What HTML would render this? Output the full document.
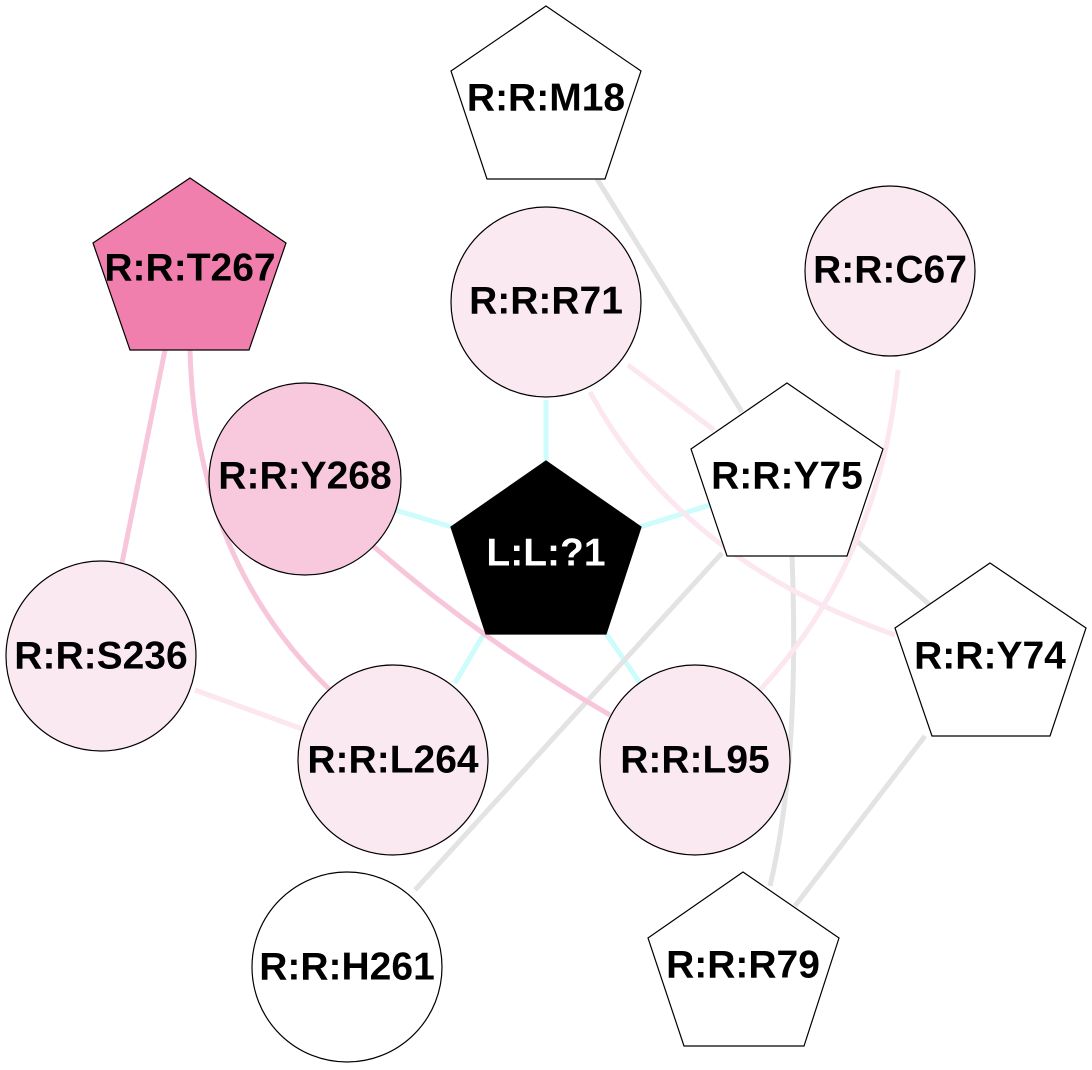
<!DOCTYPE html>
<html><head><meta charset="utf-8"><style>html,body{margin:0;padding:0;background:#fff}svg{display:block}text{font-family:"Liberation Sans",Arial,sans-serif;font-weight:bold;font-size:39px;text-anchor:middle;dominant-baseline:central}</style></head>
<body>
<svg width="1092" height="1070" viewBox="0 0 1092 1070" xmlns="http://www.w3.org/2000/svg">
<g fill="none" stroke-width="5">
<g stroke="#ccfcfc">
<line x1="546" y1="400" x2="546" y2="462"/>
<line x1="395" y1="510" x2="452" y2="527"/>
<line x1="640" y1="527" x2="710" y2="505"/>
<line x1="455" y1="683" x2="485" y2="632"/>
<line x1="640" y1="683" x2="605" y2="632"/>
</g>
<g stroke="#e3e3e3">
<line x1="597" y1="179" x2="742" y2="412"/>
<line x1="850" y1="535" x2="930" y2="605"/>
<line x1="722" y1="553" x2="415" y2="890"/>
<path d="M792 556 Q800 760 770 886"/>
<line x1="925" y1="736" x2="795" y2="906"/>
</g>
<g stroke="#fce6ef">
<line x1="628" y1="365" x2="714" y2="430"/>
<path d="M590 392 Q680 560 895 635"/>
<path d="M898 370 Q880 560 760 690"/>
<line x1="195" y1="690" x2="305" y2="730"/>
</g>
<g stroke="#f8c6da">
<line x1="165" y1="350" x2="122" y2="563"/>
<path d="M190 350 Q195 560 330 690"/>
<path d="M372 545 Q480 640 610 715"/>
</g>
</g>
<g stroke="#000" stroke-width="1.2">
<polygon points="546,6 641,71 605,179 487,179 451,71" fill="#fff"/>
<polygon points="190,178 286,243 249,350 130,350 93,243" fill="#f07fae"/>
<circle cx="546" cy="302" r="95" fill="#fbe9f2"/>
<circle cx="890" cy="271" r="85" fill="#fbe9f2"/>
<circle cx="305" cy="479" r="96" fill="#f8c8dc"/>
<polygon points="546,461 641,527 606,634 486,634 451,527" fill="#000"/>
<polygon points="787,383 883,449 847,556 727,556 691,449" fill="#fff"/>
<polygon points="990,563 1086,628 1050,736 932,736 895,628" fill="#fff"/>
<circle cx="101" cy="656" r="95" fill="#fbe9f2"/>
<circle cx="393" cy="760" r="95" fill="#fbe9f2"/>
<circle cx="695" cy="760" r="95" fill="#fbe9f2"/>
<circle cx="347" cy="967" r="95" fill="#fff"/>
<polygon points="743,872 839,938 804,1046 684,1046 648,938" fill="#fff"/>
</g>
<text x="546" y="98">R:R:M18</text>
<text x="190" y="268">R:R:T267</text>
<text x="546" y="301">R:R:R71</text>
<text x="890" y="270">R:R:C67</text>
<text x="305" y="476">R:R:Y268</text>
<text x="546" y="553" fill="#fff">L:L:?1</text>
<text x="787" y="476">R:R:Y75</text>
<text x="990" y="656">R:R:Y74</text>
<text x="101" y="656">R:R:S236</text>
<text x="393" y="760">R:R:L264</text>
<text x="695" y="760">R:R:L95</text>
<text x="347" y="967">R:R:H261</text>
<text x="743" y="965">R:R:R79</text>
</svg>
</body></html>
